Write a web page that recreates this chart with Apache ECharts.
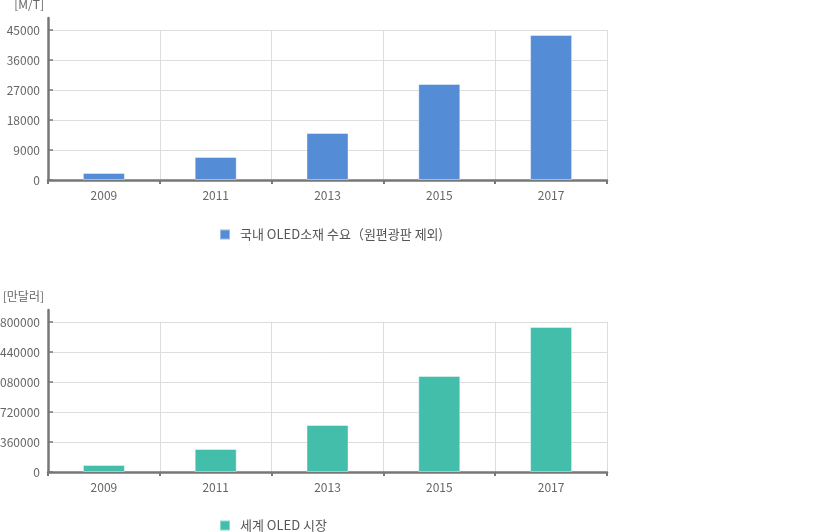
<!DOCTYPE html>
<html><head><meta charset="utf-8">
<script src="https://cdn.jsdelivr.net/npm/echarts@6/dist/echarts.min.js"></script>
<style>html,body{margin:0;padding:0;background:#fff}#c{width:828px;height:532px}</style>
</head><body><div id="c"></div>
<script>
const years = ['2009', '2011', '2013', '2015', '2017'];
const demand = [2100, 6900, 14100, 28800, 43500];
const market = [84000, 276000, 564000, 1152000, 1740000];
const name1 = '국내 OLED소재 수요（원편광판 제외)';
const name2 = '세계 OLED 시장';
const unit1 = '[M/T]';
const unit2 = '[만달러]';

const FONT = '"Noto Sans CJK KR", "Noto Sans", sans-serif';
const AX = '#777';
const GRID = '#ddd';
const LBL = '#666';

function xAx(gi) {
  return {
    type: 'category', gridIndex: gi, data: years,
    axisLine: { lineStyle: { color: AX, width: 2.5 } },
    axisTick: { show: true, length: 4, lineStyle: { color: AX, width: 2 } },
    axisLabel: { color: LBL, fontSize: 12, fontFamily: FONT, margin: 9 },
    splitLine: { show: true, lineStyle: { color: GRID, width: 1 } }
  };
}
function yAx(gi, max, interval) {
  return {
    type: 'value', gridIndex: gi, min: 0, max: max, interval: interval,
    axisLine: { show: false },
    axisTick: { show: true, inside: true, length: 5, lineStyle: { color: AX, width: 1.5 } },
    axisLabel: { color: LBL, fontSize: 12, fontFamily: FONT, margin: 8, padding: [3, 0, 0, 0], formatter: v => String(v) },
    splitLine: { show: true, lineStyle: { color: GRID, width: 1 } }
  };
}
function helperX(gi) {
  return { type: 'value', gridIndex: gi, show: false, min: 0, max: 1 };
}
function helperY(gi, name) {
  return {
    type: 'value', gridIndex: gi, min: 0, max: 1,
    name: name, nameLocation: 'end', nameGap: 8,
    nameTextStyle: { color: LBL, fontSize: 12, fontFamily: FONT, align: 'right', padding: [0, 4, 0, 0] },
    axisLine: { show: true, lineStyle: { color: AX, width: 2.5 } },
    axisTick: { show: false }, axisLabel: { show: false }, splitLine: { show: false }
  };
}
const g = (top, height) => ({ left: 48, top: top, width: 559, height: height, containLabel: false, outerBoundsMode: 'none' });

const chart = echarts.init(document.getElementById('c'), null, { renderer: 'canvas' });
chart.setOption({
  animation: false,
  backgroundColor: '#fff',
  grid: [g(30, 150), g(322, 150), g(18, 162), g(310, 162)],
  xAxis: [xAx(0), xAx(1), helperX(2), helperX(3)],
  yAxis: [yAx(0, 45000, 9000), yAx(1, 1800000, 360000), helperY(2, unit1), helperY(3, unit2)],
  legend: [
    { data: [name1], left: 219, top: 228, padding: 0, itemWidth: 10, itemHeight: 10, icon: 'rect',
      textStyle: { color: '#555', fontSize: 13, fontFamily: FONT, padding: [0, 0, 0, 5] } },
    { data: [name2], left: 219, top: 519, padding: 0, itemWidth: 10, itemHeight: 10, icon: 'rect',
      textStyle: { color: '#555', fontSize: 13, fontFamily: FONT, padding: [0, 0, 0, 5] } }
  ],
  series: [
    { type: 'bar', name: name1, xAxisIndex: 0, yAxisIndex: 0, data: demand, barWidth: 42,
      itemStyle: { color: '#548DD6', borderColor: 'rgba(255,255,255,0.4)', borderWidth: 1 } },
    { type: 'bar', name: name2, xAxisIndex: 1, yAxisIndex: 1, data: market, barWidth: 42,
      itemStyle: { color: '#43BEAA', borderColor: 'rgba(255,255,255,0.4)', borderWidth: 1 } }
  ]
});
</script></body></html>
